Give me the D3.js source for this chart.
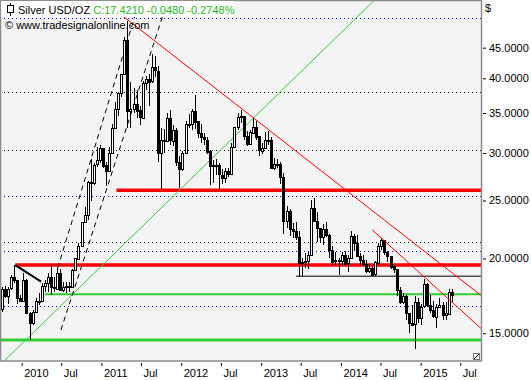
<!DOCTYPE html>
<html>
<head>
<meta charset="UTF-8">
<title>Silver USD/OZ</title>
<script src="https://cdn.jsdelivr.net/npm/d3@7/dist/d3.min.js"></script>
<style>
    body { margin: 0; background: #fff; }
    svg { display: block; font-family: "Liberation Sans", Arial, sans-serif; font-size: 11px; }
    .wick { stroke: #000; stroke-width: 1; shape-rendering: crispEdges; }
    .body { stroke: #000; stroke-width: 1; shape-rendering: crispEdges; }
</style>
</head>
<body>
<svg id="chart" width="531" height="380"></svg>
<script>
// two-week candles, first one closes 2009-09-25; open = previous close
var firstBar = new Date(2009, 8, 25);
var firstOpen = 16.6;

var closes = [
    16.5, 17.8, 17.3, 17.8, 18.6, 18.4, 17.2,
    17.0, 18.4, 16.2, 15.6, 16.3, 17.0, 17.0, 18.0, 18.2, 18.6, 17.9, 17.8, 18.9, 17.7, 17.9, 18.0, 17.9, 19.1, 20.0, 21.0, 23.0, 23.6, 26.8, 26.8, 28.7, 29.2, 30.6,
    28.6, 28.0, 30.0, 33.0, 35.5, 37.8, 40.7, 46.3, 35.3, 35.6, 36.3, 35.4, 34.4, 39.3, 39.9, 39.5, 41.7, 41.2, 30.0, 31.5, 31.4, 34.3, 31.5, 32.8, 29.0, 28.2,
    30.0, 33.6, 33.6, 35.3, 33.9, 32.4, 31.9, 31.6, 30.2, 28.5, 28.6, 28.6, 27.6, 27.3, 28.0, 27.7, 30.7, 33.2, 34.5, 34.6, 32.0, 31.0, 32.5, 33.2, 32.0, 30.3,
    30.6, 31.6, 31.6, 28.4, 28.8, 28.8, 27.4, 23.1, 24.0, 22.4, 22.2, 21.7, 19.6, 19.7, 19.8, 20.3, 24.3, 23.1, 22.5, 21.7, 22.4, 21.9, 20.7, 19.8, 19.9, 19.8,
    20.3, 19.6, 20.0, 21.8, 21.2, 20.2, 19.9, 19.6, 19.1, 19.3, 18.8, 19.7, 21.0, 21.5, 20.5, 20.2, 19.4, 19.2, 17.7, 16.9, 17.3, 16.2, 15.6, 15.5, 16.9, 15.9,
    16.6, 18.1, 16.7, 16.4, 16.0, 16.6, 16.7, 16.1, 16.2, 17.6, 17.42
];
var highs = [
    17.4, 17.9, 18.0, 17.9, 18.8, 19.5, 18.4,
    17.4, 18.9, 18.5, 16.3, 16.4, 17.2, 17.5, 18.2, 18.4, 18.9, 19.6, 18.6, 19.3, 19.2, 18.3, 18.3, 18.3, 19.2, 20.0, 21.2, 23.0, 24.4, 26.9, 29.3, 28.9, 30.7, 30.9,
    30.6, 29.0, 30.7, 33.5, 36.5, 38.0, 40.7, 46.8, 49.8, 39.5, 38.5, 38.3, 36.0, 39.6, 40.4, 40.6, 44.0, 43.5, 41.9, 33.0, 32.9, 35.0, 35.4, 33.4, 33.0, 29.7,
    30.2, 34.0, 34.9, 35.6, 37.5, 33.9, 33.5, 32.4, 31.9, 30.3, 29.2, 29.3, 28.9, 28.2, 28.3, 28.3, 31.2, 33.2, 35.0, 35.4, 34.4, 32.6, 32.8, 34.3, 34.0, 32.0,
    31.2, 32.5, 32.6, 31.9, 29.4, 29.3, 29.0, 27.8, 24.5, 24.2, 22.9, 23.0, 22.2, 20.0, 20.4, 20.5, 25.0, 25.2, 23.9, 22.5, 22.8, 23.0, 22.0, 21.0, 20.5, 20.0,
    20.5, 20.6, 20.3, 22.2, 22.0, 21.9, 20.4, 20.3, 19.9, 19.6, 19.4, 19.8, 21.2, 21.6, 21.3, 20.6, 20.0, 19.5, 19.2, 17.9, 17.5, 17.4, 16.2, 16.7, 17.3, 17.2,
    16.8, 18.5, 18.2, 17.4, 17.0, 16.8, 17.2, 16.9, 16.9, 17.8, 17.8
];
var lows = [
    16.3, 16.3, 17.2, 16.8, 17.7, 18.2, 16.8,
    16.9, 17.0, 16.2, 14.6, 15.5, 16.2, 16.7, 17.3, 17.6, 17.6, 17.4, 17.6, 17.9, 17.7, 17.6, 17.5, 17.6, 17.9, 19.1, 20.0, 21.7, 22.9, 23.2, 24.9, 26.5, 28.4, 28.9,
    28.3, 26.4, 28.0, 30.6, 33.4, 34.6, 37.2, 40.5, 33.0, 33.0, 35.0, 34.3, 33.4, 34.3, 38.3, 36.0, 39.3, 40.2, 29.0, 26.1, 30.0, 31.3, 31.0, 30.8, 28.5, 26.2,
    28.0, 29.9, 33.0, 32.8, 32.9, 31.8, 31.2, 31.0, 29.9, 26.5, 26.7, 27.6, 26.1, 26.6, 26.7, 27.4, 27.6, 30.7, 32.8, 33.7, 31.6, 30.8, 31.2, 32.3, 31.5, 29.7,
    29.9, 30.5, 31.0, 28.2, 28.1, 28.3, 26.6, 22.0, 22.5, 21.8, 21.6, 21.5, 18.6, 18.7, 19.3, 19.2, 20.3, 23.0, 21.3, 21.2, 21.1, 21.7, 20.0, 19.5, 19.5, 18.8,
    19.5, 19.6, 19.0, 20.0, 20.6, 20.2, 19.5, 19.4, 18.9, 18.9, 18.7, 18.7, 19.6, 20.7, 20.3, 19.7, 19.2, 18.9, 17.3, 16.8, 16.8, 15.8, 15.0, 15.4, 14.1, 15.6,
    15.5, 16.5, 16.6, 16.2, 15.9, 15.3, 16.5, 15.8, 15.8, 16.2, 16.9
];

// price axis and dotted levels
var priceTicks = [15, 20, 25, 30, 35, 40, 45];
var dotBlack = [37.9, 30.4, 21.3];
var dotBlue = [50.4, 25.44, 20.59, 16.64];

// drawn levels: start date and price, run to the right edge
var redLevels = [["2011-03-11", 26.0], ["2009-12-03", 19.5]];
var greenLevel = ["2010-04-17", 17.43];
var greenBase = ["2009-09-24", 14.62];
var blackLevel = ["2013-06-09", 18.68];

// drawn trend lines: two points each
var redTrend = [["2011-03-17", 51.6], ["2015-10-04", 17.35]];
var redTrend2 = [["2014-05-24", 22.33], ["2015-10-04", 15.28]];
var greenTrend = [["2009-10-13", 13.48], ["2014-06-04", 54.06]];
var blackTrend = [["2009-12-03", 19.5], ["2010-03-31", 18.29]];
var dashTrends = [
    [["2010-06-15", 19.28], ["2011-06-26", 54.06]],
    [["2010-06-30", 15.19], ["2011-11-01", 54.06]]
];

var W = 481, H = 361;
var parse = d3.timeParse("%Y-%m-%d");

var x = d3.scaleTime()
    .domain([new Date(2009, 8, 24), new Date(2015, 9, 4)])
    .range([0, W]);
var y = d3.scaleLog()
    .domain([13.48, 54.06])
    .range([H, 0]);

var svg = d3.select("#chart");

svg.append("defs").append("clipPath").attr("id", "clip")
    .append("rect").attr("width", W).attr("height", H);

svg.append("rect")
    .attr("width", W).attr("height", H)
    .attr("fill", "#f4f4f4");

var plot = svg.append("g").attr("clip-path", "url(#clip)");

function py(v) { return Math.round(y(v)) + 0.5; }

// dotted grid
plot.selectAll(".gb").data(dotBlack).enter().append("line")
    .attr("x1", 0).attr("x2", W)
    .attr("y1", py).attr("y2", py)
    .attr("stroke", "#000").attr("stroke-dasharray", "1,3");
plot.selectAll(".gu").data(dotBlue).enter().append("line")
    .attr("x1", 0).attr("x2", W)
    .attr("y1", py).attr("y2", py)
    .attr("stroke", "#0000dd").attr("stroke-dasharray", "1,3");

function level(d, color, width) {
    plot.append("line")
        .attr("x1", x(parse(d[0]))).attr("x2", W)
        .attr("y1", y(d[1])).attr("y2", y(d[1]))
        .attr("stroke", color).attr("stroke-width", width);
}
level(greenBase, "#32cd32", 3);
level(greenLevel, "#32cd32", 2);
level(blackLevel, "#000", 1);
redLevels.forEach(function(d) { level(d, "#ff0000", 3.5); });

var line = d3.line()
    .x(function(d) { return x(parse(d[0])); })
    .y(function(d) { return y(d[1]); });

plot.append("path").attr("d", line(greenTrend))
    .attr("fill", "none").attr("stroke", "#32cd32").attr("stroke-width", 1);
dashTrends.forEach(function(t) {
    plot.append("path").attr("d", line(t))
        .attr("fill", "none").attr("stroke", "#000").attr("stroke-width", 1)
        .attr("stroke-dasharray", "5,4");
});

// candles
var bars = closes.map(function(c, i) {
    var o = i ? closes[i - 1] : firstOpen;
    return {
        date: d3.timeDay.offset(firstBar, 14 * i - 6),
        open: o,
        close: c,
        high: Math.max(highs[i], o, c),
        low: Math.min(lows[i], o, c)
    };
});

var candle = plot.selectAll(".candle").data(bars).enter().append("g")
    .attr("class", "candle");
candle.append("line")
    .attr("class", "wick")
    .attr("x1", function(d) { return Math.round(x(d.date)) + 0.5; })
    .attr("x2", function(d) { return Math.round(x(d.date)) + 0.5; })
    .attr("y1", function(d) { return y(d.high); })
    .attr("y2", function(d) { return y(d.low); });
candle.append("rect")
    .attr("class", "body")
    .attr("x", function(d) { return Math.round(x(d.date)) - 0.5; })
    .attr("width", 2)
    .attr("y", function(d) { return Math.round(y(Math.max(d.open, d.close))) + 0.5; })
    .attr("height", function(d) { return Math.max(1, Math.round(Math.abs(y(d.open) - y(d.close)))); })
    .attr("fill", function(d) { return d.close >= d.open ? "#fff" : "#000"; });

plot.append("path").attr("d", line(blackTrend))
    .attr("fill", "none").attr("stroke", "#000").attr("stroke-width", 2);
plot.append("path").attr("d", line(redTrend))
    .attr("fill", "none").attr("stroke", "#ff0000").attr("stroke-width", 1);
plot.append("path").attr("d", line(redTrend2))
    .attr("fill", "none").attr("stroke", "#ff0000").attr("stroke-width", 1);

// frame
svg.append("rect")
    .attr("x", 0.5).attr("y", 0.5).attr("width", W).attr("height", H - 0.5)
    .attr("fill", "none").attr("stroke", "#8c8c8c").attr("stroke-width", 1.5);

// size grip
svg.append("rect").attr("x", 473.5).attr("y", 353.5).attr("width", 6).attr("height", 6)
    .attr("fill", "#fff").attr("stroke", "#777");
svg.append("line").attr("x1", 474).attr("y1", 359).attr("x2", 479).attr("y2", 354)
    .attr("stroke", "#000");

// title box
svg.append("rect").attr("x", 1).attr("y", 1).attr("width", 233).attr("height", 16).attr("fill", "#fff");
svg.append("line").attr("x1", 10.5).attr("x2", 10.5).attr("y1", 3).attr("y2", 16).attr("stroke", "#000");
svg.append("rect").attr("x", 7.5).attr("y", 5.5).attr("width", 6).attr("height", 7)
    .attr("fill", "#fff").attr("stroke", "#000");
var title = svg.append("text").attr("x", 18).attr("y", 13.5);
title.append("tspan").attr("fill", "#000").text("Silver USD/OZ ");
title.append("tspan").attr("fill", "#1fb81f").text("C:17.4210 -0.0480 -0.2748%");
svg.append("text").attr("x", 5).attr("y", 29).attr("fill", "#000")
    .text("\u00a9 www.tradesignalonline.com");

// price axis
var yAxis = svg.append("g")
    .attr("transform", "translate(483,0)")
    .call(d3.axisRight(y).tickValues(priceTicks).tickFormat(d3.format(".4f")).tickSize(3).tickPadding(3));
yAxis.select(".domain").remove();
yAxis.selectAll("text").attr("font-size", 11).attr("font-family", "Liberation Sans, Arial, sans-serif");
svg.append("text").attr("x", 485).attr("y", 12).text("$");

// time axis
var xTicks = d3.timeMonth.every(6).range(x.domain()[0], x.domain()[1]);
var xAxis = svg.append("g")
    .attr("transform", "translate(0,363)")
    .call(d3.axisBottom(x).tickValues(xTicks).tickSize(3).tickPadding(0)
        .tickFormat(function(d) { return d.getMonth() === 0 ? d3.timeFormat("%Y")(d) : "Jul"; }));
xAxis.select(".domain").remove();
xAxis.selectAll("text")
    .attr("text-anchor", "start").attr("x", 2).attr("y", 14).attr("dy", null)
    .attr("font-size", 11).attr("font-family", "Liberation Sans, Arial, sans-serif");
</script>
</body>
</html>
